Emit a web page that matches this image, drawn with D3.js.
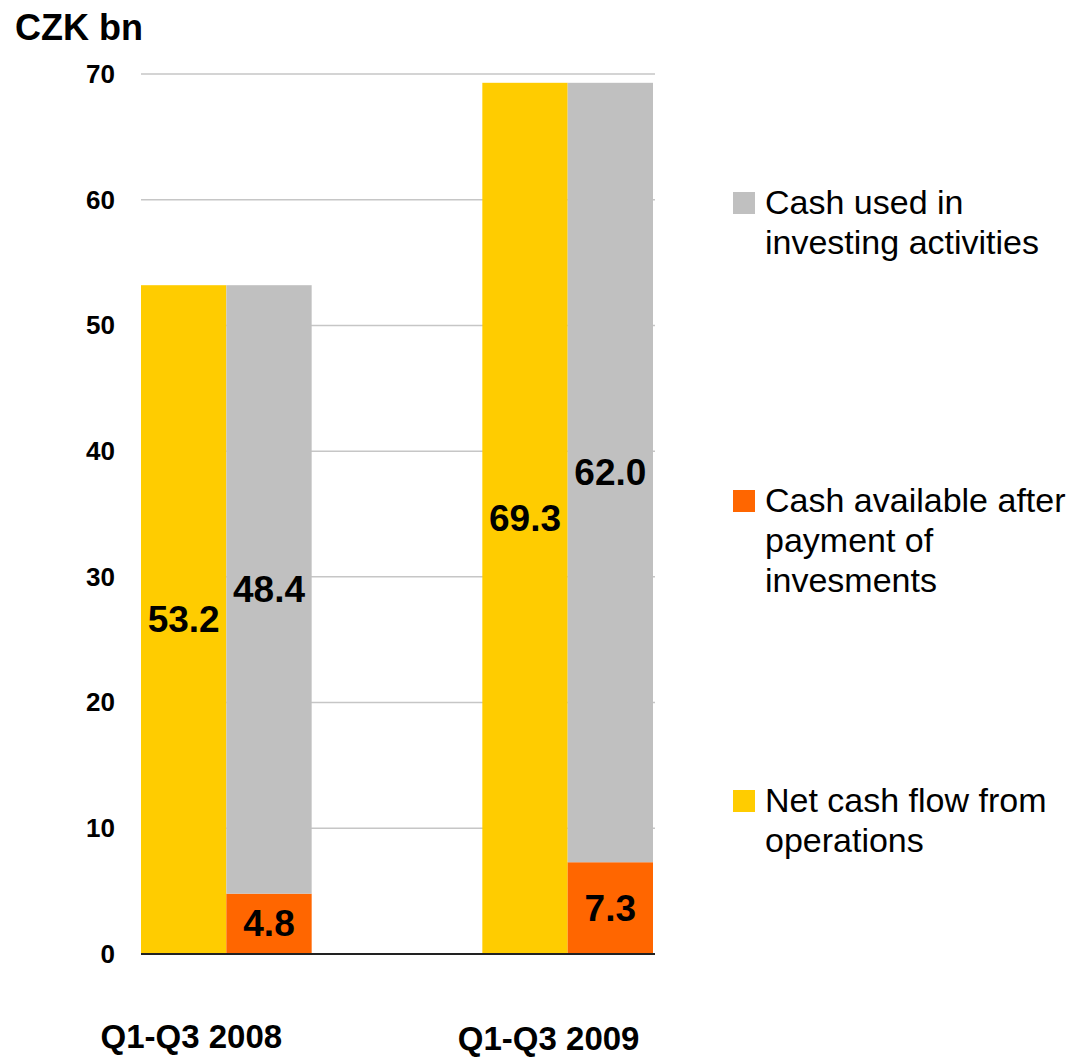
<!DOCTYPE html>
<html>
<head>
<meta charset="utf-8">
<script src="https://cdn.jsdelivr.net/npm/d3@7"></script>
<style>
  body { margin: 0; background: #fff; }
  text { font-family: "Liberation Sans", Arial, sans-serif; }
</style>
</head>
<body>
<div id="chart"></div>
<script>
// Cash flow chart - operations vs investments, CZK bn
const categories = ["Q1-Q3 2008", "Q1-Q3 2009"];
const netCashFlow = [53.2, 69.3];
const cashAvailable = [4.8, 7.3];
const cashInvesting = [48.4, 62.0];
const yTicks = [0, 10, 20, 30, 40, 50, 60, 70];
const legendItems = [
    { lines: ["Cash used in", "investing activities"], color: "#C0C0C0" },
    { lines: ["Cash available after", "payment of", "invesments"], color: "#FF6600" },
    { lines: ["Net cash flow from", "operations"], color: "#FFCC00" }
];

const W = 1075, H = 1057;
const svg = d3.select("#chart").append("svg")
    .attr("width", W)
    .attr("height", H);

const x = d3.scaleBand()
    .domain(categories)
    .range([141, 653])
    .paddingInner(0.5)
    .paddingOuter(0);

const y = d3.scaleLinear()
    .domain([0, 70])
    .range([954, 74]);

const half = x.bandwidth() / 2;

// gridlines
svg.append("g")
    .selectAll("line")
    .data(yTicks.filter(t => t > 0))
    .enter()
    .append("line")
    .attr("x1", 141).attr("x2", 655)
    .attr("y1", d => y(d)).attr("y2", d => y(d))
    .attr("stroke", "#c6c6c6")
    .attr("stroke-width", 1.5);

// y axis labels
const yAxis = svg.append("g")
    .attr("transform", "translate(141,0)")
    .call(d3.axisLeft(y).tickValues(yTicks).tickSize(0).tickPadding(26));
yAxis.select(".domain").remove();
yAxis.selectAll("text")
    .attr("font-family", "Liberation Sans, Arial, sans-serif")
    .attr("font-size", 26)
    .attr("font-weight", "bold")
    .attr("fill", "#000");

// bars: left column = net cash flow, right column = stacked available + investing
const rows = categories.map((c, i) => ({
    cat: c,
    net: netCashFlow[i],
    avail: cashAvailable[i],
    inv: cashInvesting[i]
}));

const bars = svg.append("g");
rows.forEach(r => {
    const x0 = x(r.cat);
    // yellow
    bars.append("rect")
        .attr("x", x0).attr("width", half)
        .attr("y", y(r.net)).attr("height", y(0) - y(r.net))
        .attr("fill", "#FFCC00");
    // orange
    bars.append("rect")
        .attr("x", x0 + half).attr("width", half)
        .attr("y", y(r.avail)).attr("height", y(0) - y(r.avail))
        .attr("fill", "#FF6600");
    // gray
    bars.append("rect")
        .attr("x", x0 + half).attr("width", half)
        .attr("y", y(r.avail + r.inv)).attr("height", y(r.avail) - y(r.avail + r.inv))
        .attr("fill", "#C0C0C0");

    const lbl = (cx, cy, v) => bars.append("text")
        .attr("x", cx).attr("y", cy)
        .attr("text-anchor", "middle")
        .attr("dominant-baseline", "central")
        .attr("font-size", 37)
        .attr("font-weight", "bold")
        .attr("fill", "#000")
        .text(v.toFixed(1));

    lbl(x0 + half / 2, y(r.net / 2), r.net);
    lbl(x0 + half * 1.5, y(r.avail / 2), r.avail);
    lbl(x0 + half * 1.5, y(r.avail + r.inv / 2), r.inv);
});

// zero axis line
svg.append("line")
    .attr("x1", 141).attr("x2", 655)
    .attr("y1", y(0)).attr("y2", y(0))
    .attr("stroke", "#222")
    .attr("stroke-width", 2);

// category labels (slightly offset to the left as in the original slide)
const catShift = [-35, -19];
svg.append("g")
    .selectAll("text")
    .data(categories)
    .enter()
    .append("text")
    .attr("x", (d, i) => x(d) + half + catShift[i])
    .attr("y", (d, i) => 1048 + i * 2)
    .attr("text-anchor", "middle")
    .attr("font-size", 33)
    .attr("font-weight", "bold")
    .text(d => d);

// unit label
svg.append("text")
    .attr("x", 15).attr("y", 40)
    .attr("font-size", 36)
    .attr("font-weight", "bold")
    .text("CZK bn");

// legend
const legendTop = [192, 490, 790];
const legend = svg.append("g");
legendItems.forEach((item, i) => {
    const g = legend.append("g").attr("transform", `translate(733,${legendTop[i]})`);
    g.append("rect")
        .attr("width", 22).attr("height", 22)
        .attr("fill", item.color);
    item.lines.forEach((ln, j) => {
        g.append("text")
            .attr("x", 32)
            .attr("y", 22 + j * 40)
            .attr("font-size", 34)
            .attr("fill", "#000")
            .text(ln);
    });
});
</script>
</body>
</html>
